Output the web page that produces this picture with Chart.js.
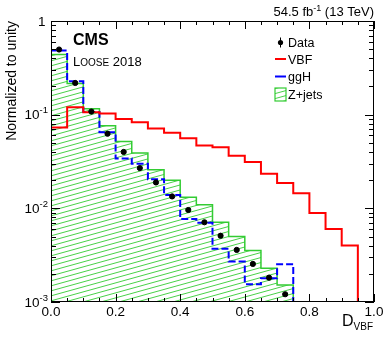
<!DOCTYPE html>
<html>
<head>
<meta charset="utf-8">
<script src="https://cdn.jsdelivr.net/npm/chart.js@4/dist/chart.umd.min.js"></script>
<style>
  html, body { margin: 0; padding: 0; background: #fff; }
  canvas { display: block; }
</style>
</head>
<body>
<canvas id="dvbf" width="390" height="344"></canvas>
<script>
// D_VBF distribution, normalised histograms (20 bins of 0.05)
const binEdges = [0.00, 0.05, 0.10, 0.15, 0.20, 0.25, 0.30, 0.35, 0.40, 0.45, 0.50,
                  0.55, 0.60, 0.65, 0.70, 0.75, 0.80, 0.85, 0.90, 0.95, 1.00];

const zjets = [0.438, 0.215, 0.116, 0.076, 0.0518, 0.039, 0.0258, 0.0199, 0.0131, 0.0109,
               0.0071, 0.0050, 0.00354, 0.00229, 0.00152, 0, 0, 0, 0, 0];
const ggH   = [0.483, 0.227, 0.107, 0.065, 0.034, 0.030, 0.0205, 0.0139, 0.0077, 0.0070,
               0.0037, 0.0027, 0.00155, 0.00179, 0.00253, 0, 0, 0, 0, 0];
const vbf   = [0.073, 0.120, 0.106, 0.103, 0.090, 0.083, 0.071, 0.064, 0.056, 0.047,
               0.045, 0.0364, 0.0312, 0.0234, 0.0186, 0.0145, 0.0089, 0.0060, 0.0040, 0];

const dataX = [0.025, 0.075, 0.125, 0.175, 0.225, 0.275, 0.325, 0.375, 0.425, 0.475,
               0.525, 0.575, 0.625, 0.675, 0.725];
const dataY = [0.496, 0.218, 0.108, 0.0626, 0.040, 0.0269, 0.0189, 0.0134, 0.0096, 0.0071,
               0.0051, 0.0036, 0.00255, 0.00182, 0.00121];

const xTicks = [0.0, 0.2, 0.4, 0.6, 0.8, 1.0];
const xTickLabels = ["0.0", "0.2", "0.4", "0.6", "0.8", "1.0"];
const yTicks = [1, 0.1, 0.01, 0.001];
const yTickExp = ["", "-1", "-2", "-3"];

const Y_MIN = 0.001, Y_MAX = 1;
const FONT = '"Liberation Sans", Helvetica, Arial, sans-serif';
const GREEN = "#33cc33";

// histogram outline: one point per bin low edge plus the closing edge
function stepPoints(vals) {
  const pts = [{ x: binEdges[0], y: Y_MIN }];
  vals.forEach((v, i) => pts.push({ x: binEdges[i], y: Math.max(v, Y_MIN) }));
  pts.push({ x: binEdges[binEdges.length - 1], y: Math.max(vals[vals.length - 1], Y_MIN) });
  return pts;
}

function hatch(color) {
  const W = 18, H = 5;
  const c = document.createElement("canvas");
  c.width = W; c.height = H;
  const g = c.getContext("2d");
  g.strokeStyle = color;
  g.lineWidth = 0.9;
  g.beginPath();
  for (const off of [-H, 0, H]) {
    g.moveTo(0, H + off);
    g.lineTo(W, off);
  }
  g.stroke();
  return g.createPattern(c, "repeat");
}
const hatchFill = hatch(GREEN);

// text with super/subscripts: parts = [[text, size, dy, bold]]
function rich(ctx, parts, x, y, align) {
  let w = 0;
  for (const p of parts) {
    ctx.font = (p[3] ? "bold " : "") + p[1] + "px " + FONT;
    w += ctx.measureText(p[0]).width;
  }
  let cx = align === "right" ? x - w : align === "center" ? x - w / 2 : x;
  ctx.textAlign = "left";
  ctx.textBaseline = "alphabetic";
  for (const p of parts) {
    ctx.font = (p[3] ? "bold " : "") + p[1] + "px " + FONT;
    ctx.fillText(p[0], cx, y + (p[2] || 0));
    cx += ctx.measureText(p[0]).width;
  }
}

const decor = {
  id: "decor",
  afterDraw(chart) {
    const ctx = chart.ctx;
    const a = chart.chartArea;
    const xs = chart.scales.x, ys = chart.scales.y;
    ctx.save();
    ctx.fillStyle = "#000";
    ctx.strokeStyle = "#000";
    ctx.lineWidth = 1;

    // frame
    ctx.strokeRect(a.left + 0.5, a.top + 0.5, a.right - a.left - 1, a.bottom - a.top - 1);

    // x ticks, inside, bottom and top
    ctx.beginPath();
    binEdges.forEach((v) => {
      const px = Math.round(xs.getPixelForValue(v)) + 0.5;
      const major = xTicks.some((t) => Math.abs(t - v) < 1e-6);
      const len = major ? 8 : 4;
      ctx.moveTo(px, a.bottom); ctx.lineTo(px, a.bottom - len);
      ctx.moveTo(px, a.top); ctx.lineTo(px, a.top + len);
    });
    // y ticks, log, left and right
    for (let d = Y_MIN; d < Y_MAX * 1.0001; d *= 10) {
      for (let m = 1; m <= 9; m++) {
        const v = d * m;
        if (v > Y_MAX * 1.0001) break;
        const py = Math.round(ys.getPixelForValue(v)) + 0.5;
        const len = m === 1 ? 9 : 5;
        ctx.moveTo(a.left, py); ctx.lineTo(a.left + len, py);
        ctx.moveTo(a.right, py); ctx.lineTo(a.right - len, py);
      }
    }
    ctx.stroke();

    // tick labels
    xTicks.forEach((v, i) => {
      rich(ctx, [[xTickLabels[i], 13.5]], xs.getPixelForValue(v), a.bottom + 14, "center");
    });
    yTicks.forEach((v, i) => {
      const py = ys.getPixelForValue(v) + 4.5;
      if (yTickExp[i]) rich(ctx, [["10", 13.5], [yTickExp[i], 9.5, -6]], 48, py, "right");
      else rich(ctx, [["1", 13.5]], 45.5, py, "right");
    });

    // axis titles
    rich(ctx, [["D", 16], ["VBF", 10, 4]], a.right - 1, a.bottom + 24, "right");
    ctx.save();
    ctx.translate(15.5, a.top);
    ctx.rotate(-Math.PI / 2);
    rich(ctx, [["Normalized to unity", 14]], 0, 0, "right");
    ctx.restore();

    // header texts
    rich(ctx, [["54.5 fb", 13], ["-1", 9, -5], [" (13 TeV)", 13]], a.right, 16, "right");
    rich(ctx, [["CMS", 16, 0, true]], 73, 45);
    rich(ctx, [["L", 13], ["OOSE", 10], [" 2018", 13]], 73, 65.5);

    // legend
    const lx = 275, lw = 11, tx = 288;
    const rowY = [42.5, 59, 76.5, 94.5];
    const labels = ["Data", "VBF", "ggH", "Z+jets"];
    // Data
    ctx.beginPath();
    ctx.moveTo(lx + lw / 2, rowY[0] - 5); ctx.lineTo(lx + lw / 2, rowY[0] + 5);
    ctx.stroke();
    ctx.beginPath();
    ctx.arc(lx + lw / 2, rowY[0], 2.6, 0, Math.PI * 2);
    ctx.fill();
    // VBF, ggH
    ctx.lineWidth = 2;
    ctx.strokeStyle = "#ff0000";
    ctx.beginPath(); ctx.moveTo(lx, rowY[1]); ctx.lineTo(lx + lw, rowY[1]); ctx.stroke();
    ctx.strokeStyle = "#0000ff";
    ctx.beginPath(); ctx.moveTo(lx, rowY[2]); ctx.lineTo(lx + lw, rowY[2]); ctx.stroke();
    // Z+jets box
    ctx.fillStyle = hatchFill;
    ctx.fillRect(lx, rowY[3] - 6.5, lw, 13);
    ctx.lineWidth = 1.2;
    ctx.strokeStyle = GREEN;
    ctx.strokeRect(lx, rowY[3] - 6.5, lw, 13);
    ctx.fillStyle = "#000";
    labels.forEach((t, i) => rich(ctx, [[t, 12.5]], tx, rowY[i] + 4.5));

    ctx.restore();
  }
};

new Chart(document.getElementById("dvbf"), {
  type: "line",
  data: {
    datasets: [
      {
        label: "Data",
        data: dataX.map((x, i) => ({ x, y: dataY[i] })),
        showLine: false,
        pointRadius: 2.6,
        pointBackgroundColor: "#000",
        pointBorderColor: "#000",
        order: 0,
      },
      {
        label: "VBF",
        data: stepPoints(vbf),
        stepped: true,
        borderColor: "#ff0000",
        borderWidth: 2,
        pointRadius: 0,
        fill: false,
        order: 1,
      },
      {
        label: "ggH",
        data: stepPoints(ggH),
        stepped: true,
        borderColor: "#0000ff",
        borderWidth: 2,
        borderDash: [7, 3],
        pointRadius: 0,
        fill: false,
        order: 2,
      },
      {
        label: "Z+jets",
        data: stepPoints(zjets),
        stepped: true,
        borderColor: GREEN,
        borderWidth: 1.5,
        backgroundColor: hatchFill,
        pointRadius: 0,
        fill: "start",
        order: 3,
      },
    ],
  },
  options: {
    responsive: false,
    animation: false,
    devicePixelRatio: 1,
    layout: { padding: { left: 51, right: 16, top: 21, bottom: 42 } },
    scales: {
      x: { type: "linear", min: 0, max: 1, display: false },
      y: { type: "logarithmic", min: Y_MIN, max: Y_MAX, display: false },
    },
    plugins: {
      legend: { display: false },
      tooltip: { enabled: false },
    },
  },
  plugins: [decor],
});
</script>
</body>
</html>
